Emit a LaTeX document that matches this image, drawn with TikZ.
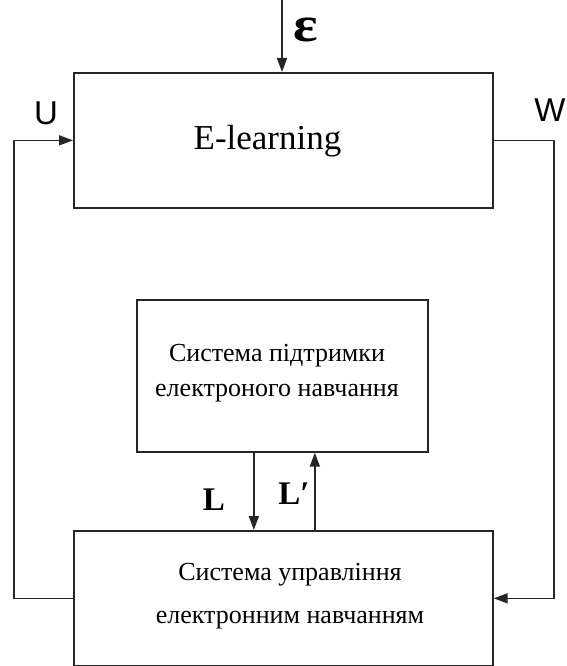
\documentclass[tikz,border=0pt]{standalone}
\usepackage{fontspec}
\setmainfont{Liberation Serif}
\newfontfamily\sansf{Liberation Sans}
\usetikzlibrary{arrows.meta}
\begin{document}
\begin{tikzpicture}[x=1pt,y=-1pt,
  box/.style={draw=black!85, line width=1.7pt, inner sep=0pt, anchor=north west},
  conn/.style={draw=black!85, line width=1.6pt},
  arr/.style={conn, -{Triangle[length=14pt,width=10pt]}},
  txt/.style={inner sep=0pt, font=\fontsize{26}{35}\selectfont, align=center},
  lbl/.style={inner sep=0pt, font=\fontsize{33}{33}\selectfont\bfseries},
  sl/.style={inner sep=0pt, font=\fontsize{33}{33}\sansf},
  ]
\useasboundingbox (0,0) rectangle (567,666);
\node[box, minimum width=419pt, minimum height=135pt] (top) at (73,72) {};
\node[box, minimum width=291pt, minimum height=152pt] (mid) at (136,299) {};
\node[box, minimum width=419pt, minimum height=135pt] (bot) at (73,530) {};

\node[inner sep=0pt, font=\fontsize{35}{35}\selectfont] (tt) at (267.5,141) {E-learning};
\node[txt] (mt) at (277,373) {Система підтримки\\електроного навчання};
\node[txt, font=\fontsize{26}{43}\selectfont] (bt) at (290,596) {Система управління\\електронним навчанням};

\coordinate (epsTop) at (282,0);
\draw[arr] (epsTop) -- (epsTop |- top.north);
\node[inner sep=0pt, font=\fontsize{50}{50}\selectfont\bfseries, xscale=1.15] (eps) at (306,30) {ε};

\draw[arr] (bot.west) -- ++(-59,0) |- (top.west);
\node[sl] (u) at (46,113) {U};
\draw[arr] (top.east) -- ++(60,0) |- (bot.east);
\node[sl] (w) at (550,110) {W};

\draw[arr] ([xshift=-28.5pt]mid.south) -- ([xshift=-28.5pt]mid.south |- bot.north);
\draw[arr] ([xshift=32.5pt]mid.south |- bot.north) -- ([xshift=32.5pt]mid.south);
\node[lbl] (l) at (214,500) {L};
\node[lbl] (lp) at (294,494) {L′};
\end{tikzpicture}
\end{document}
